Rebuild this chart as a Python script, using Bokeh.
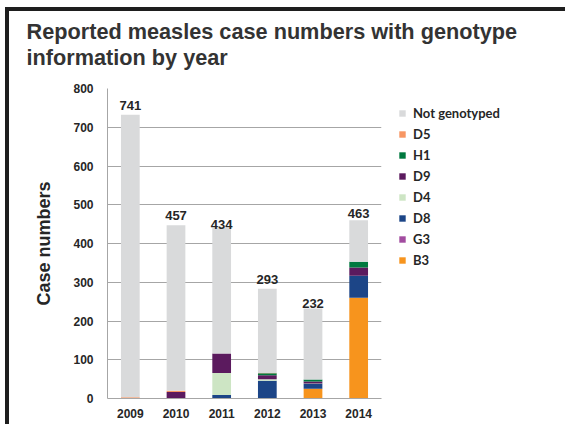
from bokeh.plotting import figure
from bokeh.models import Legend, LegendItem, Title, FixedTicker, Range1d, FactorRange, ColumnDataSource
from bokeh.core.properties import value
from bokeh.embed import file_html
from bokeh.resources import INLINE

years = ["2009", "2010", "2011", "2012", "2013", "2014"]
b3 = [0, 0, 0, 0, 25, 260]
g3 = [0, 0, 1, 0, 0, 0]
d8 = [0, 1, 8, 46, 13, 57]
d4 = [0, 0, 57, 4, 1, 0]
d9 = [0, 16, 50, 10, 5, 21]
h1 = [0, 0, 0, 5, 5, 15]
d5 = [3, 3, 0, 1, 0, 0]
not_genotyped = [729, 427, 324, 217, 183, 107]
total_labels = ["741", "457", "434", "293", "232", "463"]
total_values = [741, 457, 434, 293, 232, 463]
title_lines = ["Reported measles case numbers with genotype", "information by year"]

series_names = ["B3", "G3", "D8", "D4", "D9", "H1", "D5", "Not genotyped"]
series_keys = ["b3", "g3", "d8", "d4", "d9", "h1", "d5", "ng"]
series_colors = ["#F7941D", "#A24CA0", "#1C4587", "#CDE5C4", "#5B1A5E", "#00793F", "#F79663", "#D9DADB"]

src = ColumnDataSource(dict(year=years, b3=b3, g3=g3, d8=d8, d4=d4, d9=d9, h1=h1, d5=d5, ng=not_genotyped))

FONT = "Liberation Sans"
TXT = "#262626"
GRID = "#A6A6A6"

p = figure(x_range=FactorRange(*years, range_padding=0), y_range=Range1d(0, 800),
           frame_width=274, frame_height=310, output_backend="svg", toolbar_location=None,
           min_border_left=98, min_border_right=176, min_border_top=77, min_border_bottom=26,
           title=None)

renderers = p.vbar_stack(series_keys, x="year", width=0.41, color=series_colors, source=src, line_width=0)

p.text(x=years, y=total_values, text=total_labels, text_align="center", text_baseline="bottom",
       text_font=value(FONT), text_font_style="bold", text_font_size="13px", text_color=TXT, y_offset=-1)

items = [LegendItem(label=n, renderers=[r]) for n, r in zip(series_names, renderers)]
items.reverse()
legend = Legend(items=items, location="top_left", orientation="vertical",
                margin=17, padding=14, spacing=5, glyph_width=8, glyph_height=8,
                label_height=16, label_standoff=7, label_text_font="Lato",
                label_text_font_style="bold", label_text_font_size="13px", label_text_color=TXT,
                border_line_color=None, background_fill_alpha=0)
p.add_layout(legend, "right")

# second title line (closest to the plot), then first line above it
p.add_layout(Title(text=title_lines[1], align="left", offset=-81, text_font=FONT,
                   text_font_size="21.7px", text_font_style="bold", text_color="#333333",
                   standoff=38), "above")
p.add_layout(Title(text=title_lines[0], align="left", offset=-81, text_font=FONT,
                   text_font_size="21.7px", text_font_style="bold", text_color="#333333",
                   standoff=-40), "above")

p.yaxis.ticker = FixedTicker(ticks=list(range(0, 900, 100)))
p.yaxis.axis_label = "Case numbers"
p.yaxis.axis_label_text_font = FONT
p.yaxis.axis_label_text_font_size = "18px"
p.yaxis.axis_label_text_font_style = "bold"
p.yaxis.axis_label_text_color = TXT
p.yaxis.axis_label_standoff = 16
for ax in (p.xaxis, p.yaxis):
    ax.major_label_text_font = FONT
    ax.major_label_text_font_size = "12px"
    ax.major_label_text_font_style = "bold"
    ax.major_label_text_color = TXT
    ax.major_tick_line_color = None
    ax.minor_tick_line_color = None
    ax.axis_line_color = GRID
p.yaxis.major_label_standoff = 8
p.xaxis.major_label_standoff = 4
p.xgrid.grid_line_color = None
p.ygrid.grid_line_color = GRID
p.outline_line_color = None
p.styles = {"border-top": "4px solid #1e1e1e", "border-left": "4px solid #1e1e1e",
            "margin-left": "5px", "margin-top": "7px"}

open("out.html", "w").write(file_html(p, INLINE))
